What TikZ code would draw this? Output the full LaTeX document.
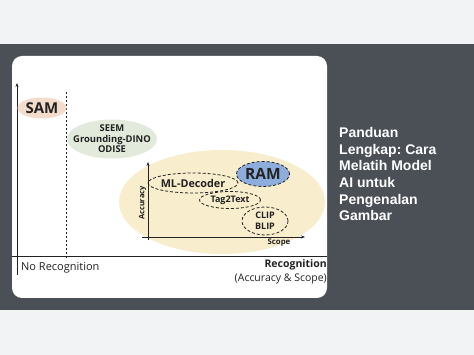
\documentclass[tikz,border=0pt]{standalone}
\usepackage{fontspec}
\setmainfont{Liberation Sans}
\newfontfamily\diagfont{Open Sans}
\usetikzlibrary{arrows.meta,positioning,shapes.geometric}
\definecolor{bandgray}{HTML}{4B5057}
\definecolor{pagegray}{HTML}{F2F3F5}
\definecolor{samfill}{HTML}{F3DCCB}
\definecolor{seemfill}{HTML}{E2EADB}
\definecolor{ramfill}{HTML}{8DAEDC}
\definecolor{scopefill}{HTML}{F8EDCC}
\definecolor{linegray}{HTML}{222222}
\frenchspacing

\begin{document}
\begin{tikzpicture}[x=1pt, y=-1pt, every node/.style={inner sep=0pt, align=center, text=linegray}, >={Stealth[length=4pt, width=3pt]},
  blob/.style={ellipse, draw=none},
  model/.style={ellipse, draw=linegray, line width=0.8pt, dash pattern=on 3pt off 2pt},
  tag/.style={font=\diagfont\bfseries}]
% page and band
\fill[pagegray] (0,0) rectangle (474,355);
\fill[bandgray] (0,44) rectangle (474,310);
\useasboundingbox (0,0) rectangle (474,355);
\fill[white, rounded corners=10pt] (12,56) rectangle (327,298);
% main axes
\coordinate (o) at (17,256);
\coordinate (ytop) at (17,83);
\coordinate (ybot) at (17,275);
\coordinate (xend) at (327,256);
\draw[->, line width=0.8pt, linegray] (ybot) -- (ytop);
\draw[line width=0.8pt, linegray] (12,256) -- (xend);
\draw[linegray, line width=0.8pt, dash pattern=on 2.5pt off 1.5pt] (66,92) -- (66,260);
% regions
\node[blob, fill=samfill, minimum width=49pt, minimum height=21pt] (sam) at (42,108) {};
\node[tag, font=\diagfont\bfseries\fontsize{15}{15}\selectfont] at (sam) {SAM};
\node[blob, fill=seemfill, minimum width=90pt, minimum height=39pt] (seem) at (112,139) {};
\node[tag, font=\diagfont\bfseries\fontsize{9.4}{10.5}\selectfont] at (seem) {SEEM\\Grounding-DINO\\ODISE};
\node[blob, fill=scopefill, minimum width=206pt, minimum height=104pt] (scope) at (222,202) {};
% inner axes
\coordinate (io) at (148,237);
\draw[->, line width=0.8pt, linegray] (148,240) -- (148,162);
\draw[->, line width=0.8pt, linegray] (142,237) -- (305,237);
\node[tag, font=\diagfont\bfseries\fontsize{7.5}{7.5}\selectfont, rotate=90] (acc) at (142.5,203) {Accuracy};
\node[tag, font=\diagfont\bfseries\fontsize{7.8}{7.8}\selectfont] (scp) at (279,242.5) {Scope};
% models
\node[model, minimum width=90pt, minimum height=20pt] (mld) at (193,183) {};
\node[tag, font=\diagfont\bfseries\fontsize{10.8}{10.8}\selectfont] at (mld) {ML-Decoder};
\node[model, fill=ramfill, minimum width=53pt, minimum height=25pt] (ram) at (263,174) {};
\node[tag, font=\diagfont\bfseries\fontsize{15.5}{15.5}\selectfont] at (ram) {RAM};
\node[model, minimum width=61pt, minimum height=17pt] (t2t) at (230,200) {};
\node[tag, font=\diagfont\bfseries\fontsize{9}{9}\selectfont] at (t2t) {Tag2Text};
\node[model, minimum width=46pt, minimum height=28pt] (clip) at (265,221) {};
\node[tag, font=\diagfont\bfseries\fontsize{9}{11}\selectfont] at (clip) {CLIP\\BLIP};
% axis labels
\node[font=\diagfont\fontsize{11}{11}\selectfont, anchor=west] (norec) at (21,268) {No Recognition};
\node[font=\diagfont\bfseries\fontsize{10.5}{10.5}\selectfont, anchor=east] (rec) at (327,265) {Recognition};
\node[font=\diagfont\fontsize{10.5}{10.5}\selectfont, anchor=east] (recsub) at (327,279) {(Accuracy \& Scope)};
% caption
\node[anchor=north west, align=left, text=white, font=\bfseries\fontsize{14}{16.7}\selectfont] (title) at (339,127) {Panduan\\Lengkap: Cara\\Melatih Model\\AI untuk\\Pengenalan\\Gambar};
\end{tikzpicture}
\end{document}
